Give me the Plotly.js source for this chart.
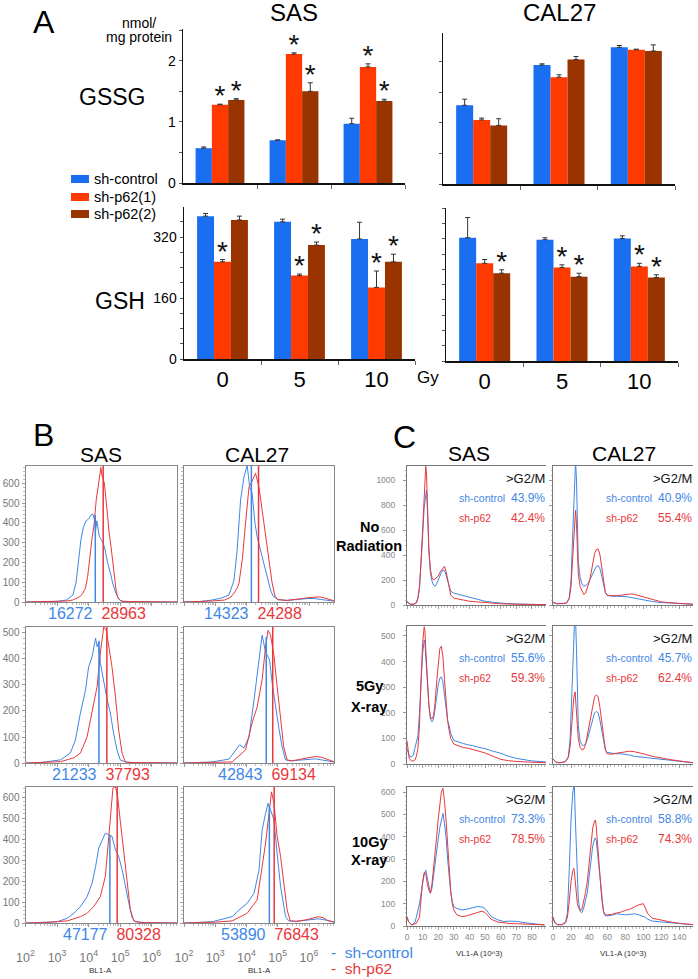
<!DOCTYPE html>
<html><head><meta charset="utf-8">
<script src="https://cdn.plot.ly/plotly-3.0.1.min.js"></script>
<style>html,body{margin:0;padding:0;background:#fff}#chart{width:698px;height:979px}</style>
</head><body><div id="chart"></div>
<script>
// ---------------- DATA ----------------
const doses = ['0', '5', '10'];
const seriesNames = ['sh-control', 'sh-p62(1)', 'sh-p62(2)'];

// Panel A, GSSG (nmol/mg protein)
const gssgSasCtrl = [0.57, 0.70, 0.97];
const gssgSasP1 = [1.28, 2.11, 1.90];
const gssgSasP2 = [1.36, 1.50, 1.34];
const gssgSasCtrlErr = [0.02, 0.005, 0.09];
const gssgSasP1Err = [0.01, 0.02, 0.05];
const gssgSasP2Err = [0.02, 0.14, 0.03];
const gssgSasSigP1 = [1, 1, 1];
const gssgSasSigP2 = [1, 1, 1];

const gssgCalCtrl = [1.29, 1.95, 2.24];
const gssgCalP1 = [1.05, 1.75, 2.20];
const gssgCalP2 = [0.96, 2.04, 2.18];
const gssgCalCtrlErr = [0.10, 0.02, 0.03];
const gssgCalP1Err = [0.03, 0.04, 0.01];
const gssgCalP2Err = [0.11, 0.05, 0.10];

// Panel A, GSH
const gshSasCtrl = [375, 360, 315];
const gshSasP1 = [255, 219, 188];
const gshSasP2 = [365, 299, 255];
const gshSasCtrlErr = [7, 7, 44];
const gshSasP1Err = [6, 4, 43];
const gshSasP2Err = [10, 8, 20];
const gshSasSigP1 = [1, 1, 1];
const gshSasSigP2 = [0, 1, 1];

const gshCalCtrl = [323, 318, 321];
const gshCalP1 = [256, 245, 248];
const gshCalP2 = [230, 221, 219];
const gshCalCtrlErr = [53, 5, 7];
const gshCalP1Err = [10, 7, 8];
const gshCalP2Err = [9, 9, 7];
const gshCalSigP1 = [0, 1, 1];
const gshCalSigP2 = [1, 1, 1];

const gssgTickLabels = [0, 1, 2];
const gshTickLabels = [0, 160, 320];

// Panel B: BL1-A histograms (x = log10 intensity, y = count)
const bSas0CtrlX = [2.0, 2.5, 3.0, 3.3, 3.5, 3.6, 3.68, 3.76, 3.84, 3.92, 4.0, 4.08, 4.13, 4.18, 4.22, 4.26, 4.34, 4.42, 4.5, 4.6, 4.7, 4.76, 4.85, 4.95, 5.05, 5.3, 6.0, 6.8];
const bSas0CtrlY = [0, 1, 3, 10, 35, 96, 200, 320, 380, 410, 420, 440, 445, 420, 360, 410, 330, 310, 280, 200, 140, 96, 50, 15, 4, 2, 1, 0];
const bSas0P62X = [2.0, 2.5, 3.0, 3.3, 3.5, 3.7, 3.8, 3.9, 3.97, 4.03, 4.1, 4.18, 4.24, 4.3, 4.34, 4.39, 4.42, 4.45, 4.5, 4.55, 4.6, 4.65, 4.71, 4.76, 4.82, 4.87, 4.92, 5.0, 5.1, 5.5, 6.0, 6.8];
const bSas0P62Y = [0, 1, 2, 5, 10, 25, 40, 70, 130, 230, 310, 400, 515, 580, 632, 680, 640, 625, 600, 520, 430, 350, 280, 200, 126, 60, 25, 8, 3, 1, 1, 0];
const bCal0CtrlX = [2.0, 2.5, 2.9, 3.2, 3.44, 3.54, 3.6, 3.7, 3.81, 3.92, 4.02, 4.06, 4.10, 4.18, 4.27, 4.34, 4.5, 4.66, 4.77, 4.85, 5.0, 5.3, 5.6, 5.8, 6.0, 6.2, 6.4, 6.6, 6.8];
const bCal0CtrlY = [0, 2, 10, 20, 35, 76, 110, 260, 515, 632, 690, 640, 580, 550, 400, 330, 230, 126, 60, 30, 12, 8, 10, 15, 18, 17, 12, 8, 5];
const bCal0P62X = [2.0, 2.5, 2.9, 3.3, 3.5, 3.6, 3.7, 3.76, 3.87, 3.97, 4.08, 4.18, 4.29, 4.40, 4.50, 4.61, 4.72, 4.82, 4.91, 5.0, 5.3, 5.6, 5.8, 6.0, 6.2, 6.35, 6.5, 6.65, 6.8];
const bCal0P62Y = [0, 2, 5, 10, 25, 45, 70, 96, 220, 400, 580, 610, 650, 580, 460, 345, 210, 96, 30, 12, 8, 12, 18, 22, 25, 26, 20, 12, 6];

const bSas5CtrlX = [2.0, 2.5, 3.11, 3.42, 3.58, 3.74, 3.90, 4.0, 4.11, 4.22, 4.27, 4.32, 4.37, 4.48, 4.59, 4.69, 4.79, 4.90, 5.0, 5.2, 5.6, 6.2, 6.8];
const bSas5CtrlY = [0, 2, 12, 38, 88, 192, 280, 370, 408, 480, 447, 465, 385, 308, 242, 192, 115, 50, 12, 3, 1, 1, 0];
const bSas5P62X = [2.0, 2.5, 3.11, 3.53, 3.74, 3.95, 4.11, 4.27, 4.37, 4.42, 4.48, 4.56, 4.64, 4.74, 4.85, 4.95, 5.06, 5.16, 5.3, 5.8, 6.8];
const bSas5P62Y = [0, 1, 5, 20, 38, 100, 192, 295, 423, 480, 523, 510, 447, 370, 255, 128, 38, 5, 2, 1, 0];
const bCal5CtrlX = [2.0, 2.5, 2.9, 3.44, 3.65, 3.78, 3.92, 4.08, 4.24, 4.34, 4.45, 4.50, 4.61, 4.74, 4.82, 4.93, 5.04, 5.14, 5.25, 5.4, 5.7, 6.0, 6.2, 6.4, 6.6, 6.8];
const bCal5CtrlY = [0, 1, 4, 15, 50, 70, 58, 100, 242, 346, 454, 492, 427, 396, 308, 215, 131, 62, 12, 8, 10, 14, 16, 12, 7, 4];
const bCal5P62X = [2.0, 2.5, 3.0, 3.54, 3.97, 4.18, 4.34, 4.50, 4.61, 4.69, 4.77, 4.88, 4.98, 5.09, 5.19, 5.30, 5.45, 5.7, 6.0, 6.2, 6.4, 6.6, 6.8];
const bCal5P62Y = [0, 1, 2, 4, 50, 154, 215, 320, 447, 510, 492, 412, 295, 165, 62, 12, 8, 14, 20, 25, 22, 12, 5];

const bSas10CtrlX = [2.0, 2.6, 3.0, 3.32, 3.53, 3.74, 3.95, 4.11, 4.22, 4.32, 4.43, 4.53, 4.64, 4.74, 4.85, 4.95, 5.06, 5.16, 5.27, 5.38, 5.48, 5.8, 6.8];
const bSas10CtrlY = [0, 2, 6, 22, 46, 78, 125, 190, 268, 357, 395, 428, 420, 413, 348, 318, 255, 175, 97, 25, 6, 2, 0];
const bSas10P62X = [2.0, 2.6, 3.32, 3.74, 3.95, 4.16, 4.37, 4.53, 4.64, 4.71, 4.77, 4.85, 4.92, 5.0, 5.11, 5.22, 5.32, 5.43, 5.6, 6.0, 6.8];
const bSas10P62Y = [0, 2, 10, 30, 46, 78, 125, 222, 413, 554, 643, 650, 600, 490, 350, 207, 65, 10, 3, 1, 0];
const bCal10CtrlX = [2.0, 2.5, 2.9, 3.54, 3.76, 4.02, 4.24, 4.40, 4.50, 4.61, 4.69, 4.77, 4.88, 4.98, 5.09, 5.25, 5.35, 5.6, 5.9, 6.1, 6.3, 6.5, 6.65, 6.8];
const bCal10CtrlY = [0, 2, 6, 30, 62, 94, 141, 252, 443, 522, 570, 539, 490, 332, 175, 30, 10, 8, 12, 18, 20, 15, 8, 4];
const bCal10P62X = [2.0, 2.5, 3.0, 3.54, 4.02, 4.18, 4.34, 4.50, 4.61, 4.72, 4.80, 4.88, 4.98, 5.09, 5.18, 5.30, 5.40, 5.6, 5.9, 6.1, 6.3, 6.45, 6.6, 6.8];
const bCal10P62Y = [0, 2, 4, 10, 46, 78, 110, 268, 380, 522, 625, 570, 413, 318, 207, 62, 10, 8, 15, 22, 30, 25, 12, 5];

// Panel B medians and the heights of their marker lines
const bSasMedCtrl = [16272, 21233, 47177];
const bSasMedP62 = [28963, 37793, 80328];
const bCalMedCtrl = [14323, 42843, 53890];
const bCalMedP62 = [24288, 69134, 76843];
const bSasLineCtrl = [440, 470, 420];
const bSasLineP62 = [687, 523, 648];
const bCalLineCtrl = [690, 485, 560];
const bCalLineP62 = [690, 523, 648];

// Panel C: VL1-A (10^3) cell-cycle histograms
const cSas0X = [0, 1, 2, 4, 6, 7, 8, 9, 10, 11, 12, 12.5, 13, 14, 15, 16, 17, 18, 19, 20, 21, 22, 23, 24, 25, 26, 27, 28, 30, 33, 36, 40, 45, 50, 55, 60, 70, 80, 89];
const cSas0Ctrl = [25, 12, 8, 5, 15, 50, 130, 300, 550, 780, 900, 920, 780, 430, 260, 190, 160, 150, 170, 200, 240, 260, 280, 275, 240, 190, 140, 110, 95, 85, 75, 60, 45, 30, 22, 15, 8, 5, 3];
const cSas0P62 = [30, 15, 8, 5, 20, 60, 150, 350, 650, 950, 1110, 1050, 800, 450, 280, 220, 200, 210, 215, 230, 260, 280, 300, 310, 270, 200, 120, 80, 55, 45, 40, 30, 25, 18, 14, 10, 6, 4, 2];
const cCal0X = [0, 5, 10, 15, 18, 20, 22, 24, 25, 26, 27, 28, 30, 32, 34, 36, 38, 40, 42, 44, 46, 48, 50, 52, 54, 56, 58, 60, 65, 70, 75, 80, 85, 90, 95, 100, 110, 120, 130, 140, 150, 155];
const cCal0Ctrl = [20, 10, 12, 15, 60, 200, 600, 1050, 1150, 1000, 600, 350, 220, 170, 150, 155, 165, 190, 220, 260, 290, 310, 315, 290, 230, 160, 100, 80, 70, 70, 72, 68, 62, 55, 50, 40, 28, 20, 15, 10, 8, 6];
const cCal0P62 = [20, 10, 12, 15, 50, 150, 400, 720, 760, 650, 420, 250, 150, 110, 85, 95, 130, 180, 250, 340, 410, 445, 448, 400, 300, 180, 100, 75, 72, 75, 78, 85, 88, 85, 75, 60, 40, 25, 18, 12, 8, 6];

const cSas5X = [0, 0.7, 1.5, 3, 4, 5, 6, 7, 8, 9, 10, 11, 11.5, 12, 13, 14, 15, 16, 17, 18, 19, 20, 21, 22, 23, 24, 25, 26, 27, 28, 30, 33, 36, 39, 42, 46, 50, 55, 60, 65, 70, 80, 89];
const cSas5Ctrl = [60, 40, 30, 28, 35, 60, 85, 110, 200, 320, 430, 484, 470, 420, 320, 230, 175, 165, 175, 210, 260, 310, 335, 340, 320, 270, 210, 170, 150, 120, 92, 85, 80, 75, 72, 65, 60, 50, 42, 30, 22, 12, 8];
const cSas5P62 = [90, 60, 20, 12, 12, 15, 30, 60, 150, 330, 470, 536, 520, 450, 330, 230, 185, 175, 190, 240, 320, 400, 450, 460, 420, 330, 240, 170, 130, 100, 78, 70, 64, 62, 58, 50, 43, 30, 18, 13, 10, 7, 5];
const cCal5X = [0, 3, 6, 10, 14, 17, 19, 21, 23, 24.5, 26, 27, 28, 30, 32, 34, 36, 38, 40, 42, 44, 46, 48, 50, 52, 54, 56, 58, 60, 65, 70, 75, 80, 85, 90, 95, 100, 110, 120, 130, 140, 150, 155];
const cCal5Ctrl = [20, 8, 5, 6, 10, 30, 100, 300, 520, 620, 450, 250, 150, 90, 75, 72, 80, 95, 120, 150, 180, 200, 205, 200, 170, 130, 85, 55, 45, 42, 40, 40, 38, 35, 30, 28, 25, 20, 17, 14, 10, 6, 5];
const cCal5P62 = [20, 8, 5, 6, 10, 25, 70, 170, 260, 282, 220, 150, 100, 65, 55, 58, 75, 110, 150, 190, 230, 262, 270, 262, 220, 160, 100, 55, 40, 38, 42, 45, 48, 50, 48, 45, 40, 30, 22, 17, 12, 7, 5];

const cSas10X = [0, 1, 3, 5, 6, 8, 10, 11, 12, 13, 14, 15, 16, 17, 18, 19, 20, 21, 22, 23, 24, 25, 26, 27, 28, 29, 30, 32, 35, 38, 41, 45, 48, 50, 52, 54, 58, 62, 66, 71, 76, 82, 88];
const cSas10Ctrl = [42, 20, 5, 15, 40, 100, 190, 230, 250, 210, 170, 147, 170, 230, 290, 340, 390, 440, 475, 505, 460, 400, 300, 220, 150, 110, 87, 78, 72, 75, 80, 87, 85, 78, 60, 42, 28, 20, 22, 20, 14, 10, 5];
const cSas10P62 = [40, 18, 5, 8, 12, 40, 200, 240, 236, 190, 160, 147, 190, 260, 320, 400, 480, 540, 600, 617, 560, 475, 360, 250, 160, 100, 72, 50, 42, 45, 50, 60, 67, 60, 45, 30, 18, 13, 11, 10, 8, 7, 5];
const cCal10X = [0, 2, 5, 10, 14, 16, 18, 20, 22, 23, 23.5, 25, 26, 27, 28, 30, 32, 34, 36, 38, 40, 42, 44, 46, 47, 48, 50, 52, 54, 56, 58, 60, 65, 70, 75, 80, 85, 90, 95, 100, 102, 105, 110, 120, 130, 140, 150, 155];
const cCal10Ctrl = [40, 15, 6, 6, 20, 60, 250, 480, 600, 630, 640, 450, 300, 200, 120, 65, 60, 80, 110, 150, 220, 290, 360, 390, 395, 380, 300, 200, 110, 60, 45, 45, 48, 55, 52, 50, 52, 55, 50, 45, 40, 30, 22, 18, 14, 10, 8, 6];
const cCal10P62 = [40, 15, 6, 6, 15, 40, 110, 200, 250, 258, 250, 190, 130, 100, 85, 70, 75, 110, 150, 200, 290, 370, 440, 470, 475, 440, 330, 220, 120, 65, 50, 50, 52, 58, 62, 70, 75, 85, 95, 100, 80, 55, 35, 25, 18, 12, 8, 6];

// Panel C percentages (>G2/M)
const cSasPctCtrl = ['43.9%', '55.6%', '73.3%'];
const cSasPctP62 = ['42.4%', '59.3%', '78.5%'];
const cCalPctCtrl = ['40.9%', '45.7%', '58.8%'];
const cCalPctP62 = ['55.4%', '62.4%', '74.3%'];
const cRowLabels = [['No', 'Radiation'], ['5Gy', 'X-ray'], ['10Gy', 'X-ray']];
const bcLegend = ['sh-control', 'sh-p62'];

// ---------------- STYLE / LAYOUT ----------------
const W = 698, H = 979;
const F = '"Liberation Sans", Arial, Helvetica, sans-serif';
const FN = '"Liberation Sans Narrow", "Arial Narrow", "Liberation Sans", sans-serif';
const A_COLORS = ['#1a6ef0', '#ff3a00', '#993300'];
const BLUE = '#3f87e6', RED = '#e8383b';
const BARGAP = 0.34;
const BW = (1 - BARGAP) / 3;

const px = x => x / W;
const py = y => 1 - y / H;
const dx = (a, b) => [a / W, b / W];
const dy = (t, b) => [1 - b / H, 1 - t / H];
const sid = i => (i === 1 ? '' : String(i));

const traces = [];
const layout = {
  width: W, height: H, margin: {l: 0, r: 0, t: 0, b: 0},
  paper_bgcolor: '#fff', plot_bgcolor: 'rgba(0,0,0,0)', showlegend: false,
  barmode: 'group', bargap: BARGAP, bargroupgap: 0,
  font: {family: F, color: '#000'}, annotations: [], shapes: []
};
function setAxes(i, xa, ya) {
  const s = sid(i);
  layout['xaxis' + s] = Object.assign({anchor: 'y' + s, fixedrange: true, showgrid: false, zeroline: false}, xa);
  layout['yaxis' + s] = Object.assign({anchor: 'x' + s, fixedrange: true, showgrid: false, zeroline: false}, ya);
}
function txt(x, y, text, opts) {
  layout.annotations.push(Object.assign({xref: 'paper', yref: 'paper', x: px(x), y: py(y), text: text,
    showarrow: false, xanchor: 'center', yanchor: 'middle', borderpad: 0,
    font: {family: F, size: 14, color: '#000'}}, opts || {}));
}

// ---------- Panel A ----------
const panelsA = [
  {ax: 1, box: [183, 405, 29, 183], range: 2.52, vals: [gssgSasCtrl, gssgSasP1, gssgSasP2], errs: [gssgSasCtrlErr, gssgSasP1Err, gssgSasP2Err], sig: [null, gssgSasSigP1, gssgSasSigP2], ppu: 61, step: 0.5, ticks: gssgTickLabels, labels: true, bottom: false},
  {ax: 2, box: [443, 675, 33, 184], range: 2.475, vals: [gssgCalCtrl, gssgCalP1, gssgCalP2], errs: [gssgCalCtrlErr, gssgCalP1Err, gssgCalP2Err], sig: [null, null, null], ppu: 61, step: 0.5, ticks: gssgTickLabels, labels: false, bottom: false},
  {ax: 3, box: [184, 415, 207, 359], range: 399, vals: [gshSasCtrl, gshSasP1, gshSasP2], errs: [gshSasCtrlErr, gshSasP1Err, gshSasP2Err], sig: [null, gshSasSigP1, gshSasSigP2], ppu: 0.381, step: 40, ticks: gshTickLabels, labels: true, bottom: true},
  {ax: 4, box: [446, 678, 208, 361], range: 401, vals: [gshCalCtrl, gshCalP1, gshCalP2], errs: [gshCalCtrlErr, gshCalP1Err, gshCalP2Err], sig: [null, gshCalSigP1, gshCalSigP2], ppu: 0.381, step: 40, ticks: gshTickLabels, labels: false, bottom: true}
];
panelsA.forEach(p => {
  const s = sid(p.ax);
  for (let k = 0; k < 3; k++) {
    traces.push({type: 'bar', x: [0, 1, 2], y: p.vals[k], name: seriesNames[k], xaxis: 'x' + s, yaxis: 'y' + s,
      marker: {color: A_COLORS[k], line: {width: 0}},
      error_y: {type: 'data', symmetric: false, array: p.errs[k], arrayminus: [0, 0, 0], color: '#333', thickness: 1, width: 2.5},
      hoverinfo: 'skip'});
  }
  for (let k = 1; k < 3; k++) {
    if (!p.sig[k]) continue;
    const xs = [], ys = [];
    p.sig[k].forEach((f, i) => { if (f) { xs.push(i + (k - 1) * BW); ys.push(p.vals[k][i] + p.errs[k][i] + 6 / p.ppu); } });
    traces.push({type: 'scatter', mode: 'text', x: xs, y: ys, text: xs.map(() => '*'), textposition: 'middle center',
      textfont: {family: F, size: 28, color: '#111'}, xaxis: 'x' + s, yaxis: 'y' + s, cliponaxis: false, hoverinfo: 'skip'});
  }
  const minorVals = [];
  for (let v = p.step; v <= p.range + 1e-9; v += p.step) {
    const vv = +v.toFixed(3);
    if (p.ticks.indexOf(vv) < 0) minorVals.push(vv);
  }
  setAxes(p.ax,
    {domain: dx(p.box[0], p.box[1]), range: [-0.5, 2.5], showline: true, linecolor: '#111', linewidth: 2,
     tickmode: 'array', tickvals: [0, 1, 2], ticktext: doses, ticks: '', showticklabels: p.bottom,
     tickfont: {family: F, size: 22, color: '#000'},
     minor: {tickmode: 'array', tickvals: [0.5, 1.5, 2.5], ticks: 'outside', ticklen: 4, tickcolor: '#666', tickwidth: 1}},
    {domain: dy(p.box[2], p.box[3]), range: [0, p.range], showline: true, linecolor: '#111', linewidth: 1.5,
     ticks: 'outside', ticklen: 3, tickcolor: '#555', tickmode: 'array', tickvals: p.ticks, ticktext: p.ticks.map(String),
     showticklabels: p.labels, tickfont: {family: F, size: 14, color: '#000'},
     minor: {tickmode: 'array', tickvals: minorVals, ticks: 'outside', ticklen: 3, tickcolor: '#555', tickwidth: 1}});
});
txt(44, 22, 'A', {font: {family: F, size: 32}});
txt(294, 13, 'SAS', {font: {family: F, size: 24}});
txt(559, 13, 'CAL27', {font: {family: F, size: 24}});
txt(139, 23, 'nmol/', {font: {family: F, size: 14}});
txt(139, 37, 'mg protein', {font: {family: F, size: 14}});
txt(112, 97, 'GSSG', {font: {family: F, size: 23}});
txt(120, 301, 'GSH', {font: {family: F, size: 23}});
txt(428, 377, 'Gy', {font: {family: F, size: 17}});
[179, 197, 214].forEach((yc, k) => {
  layout.shapes.push({type: 'rect', xref: 'paper', yref: 'paper', x0: px(71), x1: px(89), y0: py(yc + 4), y1: py(yc - 4), fillcolor: A_COLORS[k], line: {width: 0}});
  txt(93, yc, seriesNames[k], {xanchor: 'left', font: {family: F, size: 14.5}});
});

// ---------- Panel B ----------
const bRows = [[466, 602, 687], [627, 763, 523], [787, 923, 648]];
const bCols = [[25.5, 177], [184, 334]];
const bCurves = [
  [[bSas0CtrlX, bSas0CtrlY, bSas0P62X, bSas0P62Y], [bCal0CtrlX, bCal0CtrlY, bCal0P62X, bCal0P62Y]],
  [[bSas5CtrlX, bSas5CtrlY, bSas5P62X, bSas5P62Y], [bCal5CtrlX, bCal5CtrlY, bCal5P62X, bCal5P62Y]],
  [[bSas10CtrlX, bSas10CtrlY, bSas10P62X, bSas10P62Y], [bCal10CtrlX, bCal10CtrlY, bCal10P62X, bCal10P62Y]]
];
const bMeds = [[bSasMedCtrl, bSasMedP62, bSasLineCtrl, bSasLineP62], [bCalMedCtrl, bCalMedP62, bCalLineCtrl, bCalLineP62]];
let axi = 5;
for (let r = 0; r < 3; r++) {
  for (let c = 0; c < 2; c++) {
    const s = sid(axi);
    const cv = bCurves[r][c];
    traces.push({type: 'scatter', mode: 'lines', x: cv[0].map(v => Math.pow(10, v)), y: cv[1], line: {color: BLUE, width: 1}, xaxis: 'x' + s, yaxis: 'y' + s, hoverinfo: 'skip'});
    traces.push({type: 'scatter', mode: 'lines', x: cv[2].map(v => Math.pow(10, v)), y: cv[3], line: {color: RED, width: 1}, xaxis: 'x' + s, yaxis: 'y' + s, hoverinfo: 'skip'});
    const m = bMeds[c];
    traces.push({type: 'scatter', mode: 'lines', x: [m[0][r], m[0][r]], y: [0, m[2][r]], line: {color: BLUE, width: 1.5}, xaxis: 'x' + s, yaxis: 'y' + s, hoverinfo: 'skip'});
    traces.push({type: 'scatter', mode: 'lines', x: [m[1][r], m[1][r]], y: [0, m[3][r]], line: {color: RED, width: 1.5}, xaxis: 'x' + s, yaxis: 'y' + s, hoverinfo: 'skip'});
    const mid = (Math.log10(m[0][r]) + Math.log10(m[1][r])) / 2;
    layout.annotations.push({xref: 'x' + s, yref: 'paper', x: mid, y: py(bRows[r][1] + 11), xshift: -2, showarrow: false,
      xanchor: 'center', yanchor: 'middle', borderpad: 0,
      text: '<span style="color:' + BLUE + '">' + m[0][r] + '</span>\u00a0\u00a0<span style="color:' + RED + '">' + m[1][r] + '</span>',
      font: {family: FN, size: 16}});
    setAxes(axi,
      {type: 'log', domain: dx(bCols[c][0], bCols[c][1]), range: [2, 6.8], showline: true, mirror: true, linecolor: '#888', linewidth: 1,
       ticks: 'outside', ticklen: 3, tickcolor: '#999', dtick: 1, exponentformat: 'power', showticklabels: r === 2,
       tickfont: {family: F, size: 10, color: '#777'}, ticklabelstandoff: 20,
       minor: {dtick: 'D1', ticks: 'outside', ticklen: 2, tickcolor: '#bbb'}},
      {domain: dy(bRows[r][0], bRows[r][1]), range: [0, bRows[r][2]], showline: true, mirror: true, linecolor: '#888', linewidth: 1,
       ticks: 'outside', ticklen: 3, tickcolor: '#999', dtick: 100, showticklabels: c === 0,
       tickfont: {family: FN, size: 10, color: '#777'},
       minor: {dtick: 20, ticks: 'outside', ticklen: 2, tickcolor: '#bbb'}});
    axi++;
  }
}
txt(43, 435, 'B', {font: {family: F, size: 32}});
txt(101, 455, 'SAS', {font: {family: F, size: 21}});
txt(257, 455, 'CAL27', {font: {family: F, size: 21}});
txt(100, 970, 'BL1-A', {font: {family: FN, size: 8, color: '#333'}});
txt(259, 970, 'BL1-A', {font: {family: FN, size: 8, color: '#333'}});
txt(330, 952, '-\u00a0\u00a0' + bcLegend[0], {xanchor: 'left', font: {family: F, size: 15.5, color: BLUE}});
txt(330, 968, '-\u00a0\u00a0' + bcLegend[1], {xanchor: 'left', font: {family: F, size: 15.5, color: RED}});

// ---------- Panel C ----------
const cRows = [[466, 605, 1112, 200], [626, 764, 539, 100], [787, 926, 623, 100]];
const cCols = [[407, 546, 89, 10], [553, 693, 155, 20]];
const cCurves = [
  [[cSas0X, cSas0Ctrl, cSas0P62], [cCal0X, cCal0Ctrl, cCal0P62]],
  [[cSas5X, cSas5Ctrl, cSas5P62], [cCal5X, cCal5Ctrl, cCal5P62]],
  [[cSas10X, cSas10Ctrl, cSas10P62], [cCal10X, cCal10Ctrl, cCal10P62]]
];
const cPct = [[cSasPctCtrl, cSasPctP62], [cCalPctCtrl, cCalPctP62]];
for (let r = 0; r < 3; r++) {
  for (let c = 0; c < 2; c++) {
    const s = sid(axi);
    const cv = cCurves[r][c];
    traces.push({type: 'scatter', mode: 'lines', x: cv[0], y: cv[1], line: {color: BLUE, width: 1}, xaxis: 'x' + s, yaxis: 'y' + s, hoverinfo: 'skip'});
    traces.push({type: 'scatter', mode: 'lines', x: cv[0], y: cv[2], line: {color: RED, width: 1}, xaxis: 'x' + s, yaxis: 'y' + s, hoverinfo: 'skip'});
    setAxes(axi,
      {domain: dx(cCols[c][0], cCols[c][1]), range: [0, cCols[c][2]], showline: true, mirror: true, linecolor: '#777', linewidth: 1,
       ticks: 'outside', ticklen: 3, tickcolor: '#999', dtick: cCols[c][3], showticklabels: r === 2,
       tickfont: {family: FN, size: 8.5, color: '#888'},
       minor: {dtick: cCols[c][3] / 5, ticks: 'outside', ticklen: 1.5, tickcolor: '#bbb'}},
      {domain: dy(cRows[r][0], cRows[r][1]), range: [0, cRows[r][2]], showline: true, linecolor: '#777', linewidth: 1,
       ticks: 'outside', ticklen: 3, tickcolor: '#999', dtick: cRows[r][3], showticklabels: c === 0,
       tickfont: {family: FN, size: 8.5, color: '#888'}, ticklabelstandoff: 6,
       minor: {dtick: cRows[r][3] / 5, ticks: 'outside', ticklen: 1.5, tickcolor: '#bbb'}});
    const top = cRows[r][0], right = cCols[c][1];
    txt(right, top + 12, '>G2/M', {xanchor: 'right', font: {family: FN, size: 13, color: '#111'}});
    txt(right - 88, top + 32, bcLegend[0], {xanchor: 'left', font: {family: FN, size: 10.5, color: BLUE}});
    txt(right, top + 32, cPct[c][0][r], {xanchor: 'right', font: {family: FN, size: 12, color: BLUE}});
    txt(right - 88, top + 52, bcLegend[1], {xanchor: 'left', font: {family: FN, size: 10.5, color: RED}});
    txt(right, top + 52, cPct[c][1][r], {xanchor: 'right', font: {family: FN, size: 12, color: RED}});
    axi++;
  }
}
txt(405, 437, 'C', {font: {family: F, size: 32}});
txt(469, 453, 'SAS', {font: {family: F, size: 21}});
txt(624, 453, 'CAL27', {font: {family: F, size: 21}});
const rowLabY = [[527, 546], [686, 707], [842, 860]];
cRowLabels.forEach((lb, r) => {
  txt(369, rowLabY[r][0], '<b>' + lb[0] + '</b>', {font: {family: F, size: 14.5}});
  txt(369, rowLabY[r][1], '<b>' + lb[1] + '</b>', {font: {family: F, size: 14.5}});
});
txt(480, 953, 'VL1-A (10^3)', {font: {family: FN, size: 8, color: '#333'}});
txt(623, 953, 'VL1-A (10^3)', {font: {family: FN, size: 8, color: '#333'}});

Plotly.newPlot('chart', traces, layout, {staticPlot: true, displayModeBar: false});
</script></body></html>
